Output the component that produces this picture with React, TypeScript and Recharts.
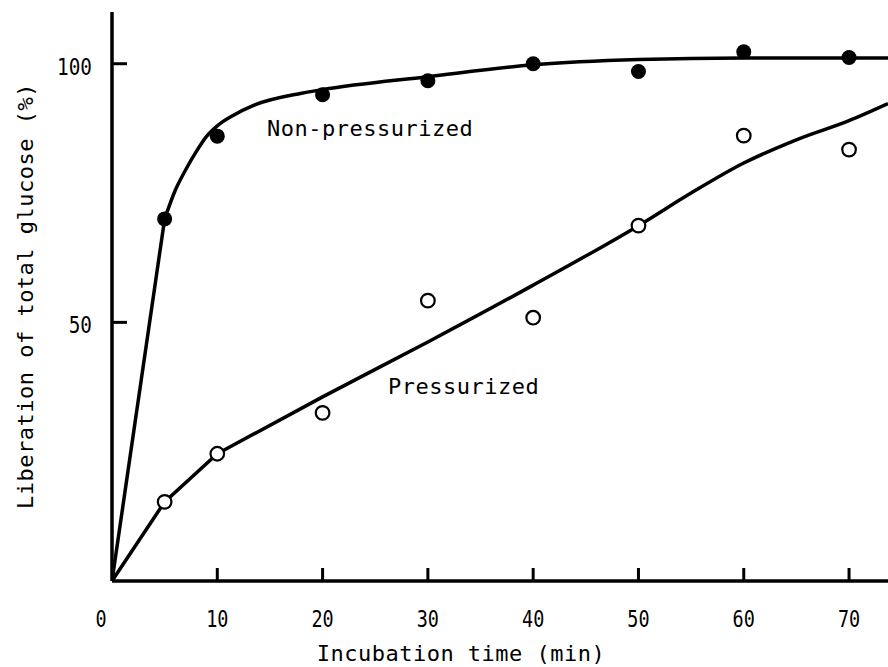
import { ComposedChart, Line, Scatter, XAxis, YAxis } from 'recharts';

// axis ticks
const xTicks = [0, 10, 20, 30, 40, 50, 60, 70];
const yTicks = [50, 100];

// measured points (incubation time in min, % of total glucose)
const timeMin = [5, 10, 20, 30, 40, 50, 60, 70];
const nonPressurized = [70, 86, 94, 96.7, 100, 98.5, 102.3, 101.2];
const pressurized = [15.3, 24.6, 32.5, 54.2, 50.9, 68.7, 86.1, 83.4];

// hand drawn curves
const nonPressStartX = [0, 5];
const nonPressStartY = [0, 70];
const nonPressCurveX = [5, 6, 7, 8, 9, 10, 11.5, 13.5, 18, 20, 30, 40, 50, 60, 73.7];
const nonPressCurveY = [70, 75.5, 79.5, 83, 86, 88, 90, 92, 94.3, 95, 97.5, 99.8, 100.8, 101.1, 101.1];
const pressStartX = [0, 5, 10];
const pressStartY = [0, 15.3, 24.6];
const pressCurveX = [10, 20, 30, 40, 50, 55, 60, 65, 70, 73.7];
const pressCurveY = [24.6, 35.6, 46.2, 57.2, 68.7, 75, 80.8, 85.3, 89, 92.3];

const toPoints = (xs: number[], ys: number[]) => xs.map((x, i) => ({ x, y: ys[i] }));

const FONT = '"DejaVu Sans Mono", monospace';

const XTick = (props: any) => {
  const { x, y, payload } = props;
  const v = payload.value;
  const tx = v === 0 ? x - 11 : x;
  return (
    <g>
      {v !== 0 && <line x1={x} y1={y} x2={x} y2={y - 13} stroke="#000" strokeWidth={3} />}
      <text
        transform={`translate(${tx},${y + 46}) scale(0.88,1.12)`}
        textAnchor="middle"
        fontFamily={FONT}
        fontSize={21}
        fill="#000"
      >
        {v}
      </text>
    </g>
  );
};

const YTick = (props: any) => {
  const { x, y, payload } = props;
  return (
    <g>
      <line x1={x} y1={y} x2={x + 15} y2={y} stroke="#000" strokeWidth={3} />
      <text
        transform={`translate(${x - 20},${y + 11}) scale(0.92,1.12)`}
        textAnchor="end"
        fontFamily={FONT}
        fontSize={21}
        fill="#000"
      >
        {payload.value}
      </text>
    </g>
  );
};

const FilledDot = (props: any) => <circle cx={props.cx} cy={props.cy} r={7.5} fill="#000" />;
const OpenDot = (props: any) => (
  <circle cx={props.cx} cy={props.cy} r={6.8} fill="#fff" stroke="#000" strokeWidth={2.2} />
);

const lineProps = {
  dataKey: 'y',
  stroke: '#000',
  strokeWidth: 3.5,
  dot: false,
  activeDot: false,
  isAnimationActive: false,
} as const;

export default function App() {
  return (
    <div style={{ position: 'absolute', left: 0, top: 0, width: 888, height: 667, background: '#fff' }}>
      <ComposedChart width={888} height={667} margin={{ top: 12, right: 0, bottom: 0, left: 0 }}>
        <XAxis
          type="number"
          dataKey="x"
          domain={[0, 73.7]}
          ticks={xTicks}
          allowDataOverflow
          height={86}
          axisLine={{ stroke: '#000', strokeWidth: 3.5 }}
          tickLine={false}
          tickSize={0}
          tickMargin={0}
          tick={<XTick />}
          interval={0}
        />
        <YAxis
          type="number"
          dataKey="y"
          domain={[0, 110]}
          ticks={yTicks}
          allowDataOverflow
          width={112}
          axisLine={{ stroke: '#000', strokeWidth: 3.5 }}
          tickLine={false}
          tickSize={0}
          tickMargin={0}
          tick={<YTick />}
          interval={0}
        />
        <Line {...lineProps} type="linear" data={toPoints(nonPressStartX, nonPressStartY)} />
        <Line {...lineProps} type="monotone" data={toPoints(nonPressCurveX, nonPressCurveY)} />
        <Line {...lineProps} type="linear" data={toPoints(pressStartX, pressStartY)} />
        <Line {...lineProps} type="monotone" data={toPoints(pressCurveX, pressCurveY)} />
        <Scatter data={toPoints(timeMin, nonPressurized)} shape={<FilledDot />} isAnimationActive={false} />
        <Scatter data={toPoints(timeMin, pressurized)} shape={<OpenDot />} isAnimationActive={false} />
      </ComposedChart>
      <svg width={888} height={667} style={{ position: 'absolute', left: 0, top: 0, pointerEvents: 'none' }}>
        <g fontFamily={FONT} fontSize={22} fill="#000" letterSpacing={0.5}>
          <text x={267} y={136}>Non-pressurized</text>
          <text x={388} y={394}>Pressurized</text>
          <text x={461} y={661} textAnchor="middle">Incubation time (min)</text>
          <text x={33} y={296} textAnchor="middle" transform="rotate(-90 33 296)">
            Liberation of total glucose (%)
          </text>
        </g>
      </svg>
    </div>
  );
}
